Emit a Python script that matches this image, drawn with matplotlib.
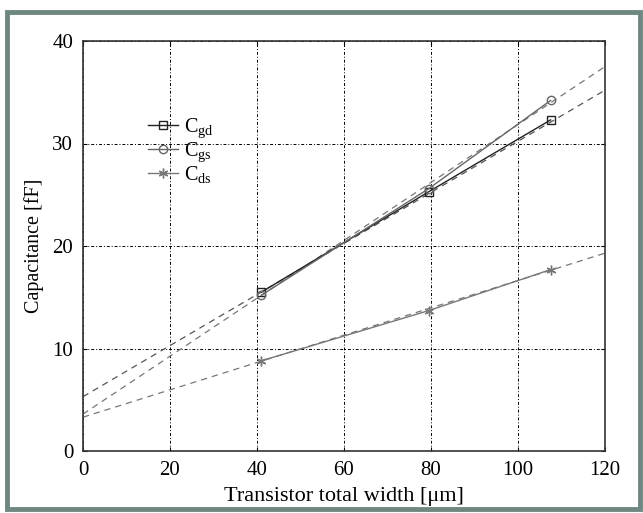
import matplotlib
matplotlib.use("Agg")
import matplotlib.pyplot as plt
from matplotlib.patches import Rectangle

# Datos
width_um = [41, 79.5, 107.5]  # ancho total del transistor [um]
c_gd = [15.5, 25.3, 32.3]
c_gs = [15.2, 25.6, 34.2]
c_ds = [8.8, 13.7, 17.7]

# extremos de las rectas de ajuste (líneas discontinuas)
fit_x = [0, 120]
fit_gd = [5.3, 35.2]
fit_gs = [3.6, 37.5]
fit_ds = [3.3, 19.3]

labels = [r"$\mathregular{C_{gd}}$", r"$\mathregular{C_{gs}}$", r"$\mathregular{C_{ds}}$"]

plt.rcParams["font.family"] = ["Liberation Serif", "DejaVu Serif"]
plt.rcParams["mathtext.fontset"] = "custom"
plt.rcParams["mathtext.rm"] = "Liberation Serif"

fig = plt.figure(figsize=(6.43, 5.13), dpi=100)
ax = fig.add_axes([83 / 643, 1 - 451 / 513, (605 - 83) / 643, (451 - 41) / 513])

# marco gris alrededor de la figura
fig.patches.append(Rectangle((7 / 643, 4 / 513), 633 / 643, 497 / 513, transform=fig.transFigure,
                             fill=False, edgecolor="#6f8781", linewidth=3.5))

dash = (0, (5, 4))
ax.plot(fit_x, fit_gd, color="#555555", linestyle=dash, linewidth=0.9)
ax.plot(fit_x, fit_gs, color="#777777", linestyle=dash, linewidth=0.9)
ax.plot(fit_x, fit_ds, color="#777777", linestyle=dash, linewidth=0.9)

ax.plot(width_um, c_gd, color="#222222", marker="s", markersize=5.5, markerfacecolor="none",
        linewidth=1.0, label=labels[0])
ax.plot(width_um, c_gs, color="#666666", marker="o", markersize=6, markerfacecolor="none",
        linewidth=1.0, label=labels[1])
ax.plot(width_um, c_ds, color="#777777", marker=(6, 2, 0), markersize=7,
        linewidth=1.0, label=labels[2])

ax.set_xlim(0, 120)
ax.set_ylim(0, 40)
ax.set_xticks(range(0, 121, 20))
ax.set_yticks(range(0, 41, 10))
ax.grid(True, color="black", linestyle=(0, (3, 2, 1, 2)), linewidth=0.7)
ax.tick_params(direction="in", top=True, right=True, length=3, labelsize=15, pad=7)
for s in ax.spines.values():
    s.set_color("#333333")
    s.set_linewidth(1.2)

ax.set_xlabel("Transistor total width [μm]", fontsize=16, labelpad=5)
ax.set_ylabel("Capacitance [fF]", fontsize=14.5, labelpad=6)

ax.legend(loc="upper left", bbox_to_anchor=(0.124, 0.815), frameon=False, fontsize=14.5,
          handlelength=1.5, handletextpad=0.3, labelspacing=0.0, borderpad=0,
          borderaxespad=0)

fig.savefig("out.png", dpi=100)
